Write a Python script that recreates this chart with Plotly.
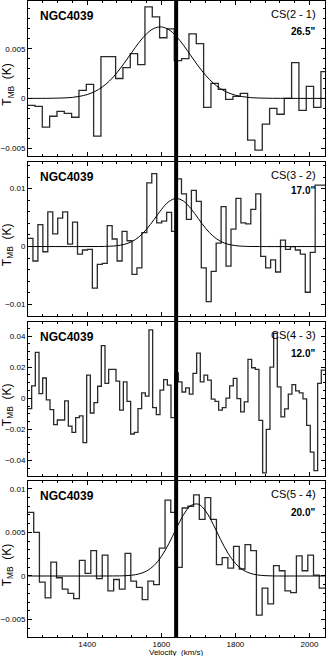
import numpy as np
import plotly.graph_objects as go

# Velocity axis (km/s) and systemic velocity marker
v_range = [1240, 2042]
v_sys = 1640
x_tickvals = [1400, 1600, 1800, 2000]
x_ticktext = ["1400", "1600", "1800", "2000"]

# CS(2-1): channel left edge, channel width, spectrum (K)
cs21_v0, cs21_dv = 1239, 19.8
cs21_t = [-0.0007, -0.0008, -0.0029, -0.0018, -0.0013, -0.0015, -0.0019, 0.0008, 0.0014, -0.0038,
          0.0042, 0.0042, 0.0020, 0.0031, 0.0045, 0.0034, 0.0092, 0.0082, 0.0061, 0.0070,
          0.0038, 0.0040, 0.0065, 0.0055, -0.0009, 0.0015, 0.0009, -0.0001, 0.0002, 0.0005,
          -0.0042, -0.0052, -0.0026, -0.0010, -0.0016, 0.0000, 0.0036, -0.0012, 0.0012, -0.0009,
          0.0027]
cs21_fit_v = [1240, 1300, 1340, 1360, 1380, 1400, 1420, 1440, 1460, 1480, 1500, 1520, 1540, 1560,
              1580, 1600, 1620, 1640, 1660, 1680, 1700, 1720, 1740, 1760, 1780, 1800, 1820, 1840,
              1860, 1900, 2042]
cs21_fit_t = [0, 0.00001, 0.00005, 0.0001, 0.00021, 0.00039, 0.00068, 0.00113, 0.00175, 0.00257,
              0.00355, 0.00461, 0.00564, 0.00649, 0.00704, 0.00719, 0.00692, 0.00627, 0.00534,
              0.00429, 0.00324, 0.00231, 0.00155, 0.00097, 0.00058, 0.00032, 0.00017, 0.00008,
              0.00004, 0.00001, 0]

# CS(3-2)
cs32_v0, cs32_dv = 1240, 13.37
cs32_t = [0.0014, -0.0025, 0.0038, -0.0009, 0.0060, 0.0022, 0.0049, 0.0060, 0.0004, 0.0042,
          -0.0013, -0.0006, -0.0005, -0.0072, -0.0031, -0.0029, 0.0036, 0.0013, -0.0025, 0.0026,
          0.0010, -0.0048, -0.0037, 0.0024, 0.0110, 0.0126, 0.0041, 0.0044, 0.0059, 0.0026,
          0.0117, 0.0091, 0.0047, 0.0097, 0.0078, -0.0037, -0.0095, -0.0043, 0.0006, 0.0069,
          -0.0034, 0.0030, 0.0083, 0.0041, 0.0039, 0.0064, 0.0091, -0.0017, -0.0037, -0.0023,
          -0.0044, 0.0011, -0.0005, 0.0000, -0.0006, -0.0013, -0.0079, -0.0010, 0.0106, 0.0106]
cs32_fit_v = [1240, 1440, 1460, 1480, 1500, 1520, 1540, 1560, 1580, 1600, 1620, 1640, 1660, 1680,
              1700, 1720, 1740, 1760, 1780, 1800, 1820, 1840, 2042]
cs32_fit_t = [0, 0.00001, 0.00005, 0.00014, 0.00037, 0.00084, 0.00168, 0.00297, 0.00463, 0.00638,
              0.00775, 0.0083, 0.00784, 0.00654, 0.00481, 0.00312, 0.00179, 0.0009, 0.0004,
              0.00016, 0.00005, 0.00001, 0]

# CS(4-3), no fit
cs43_v0, cs43_dv = 1240, 9.9
cs43_t = [-0.0067, 0.008, 0.0295, 0.003, 0.013, -0.001, -0.0073, -0.017, -0.014, -0.014,
          -0.0017, -0.018, -0.022, -0.0125, -0.0114, -0.0286, 0.0148, -0.0095, -0.0028, 0.0077,
          0.0338, 0.0095, 0.0185, 0.0185, 0.011, -0.0077, 0.0105, -0.002, -0.023, -0.022,
          -0.0067, 0.0034, 0.0013, 0.0439, -0.006, -0.0105, 0.0052, 0.012, 0.0084, -0.0125,
          0.0163, 0.0105, 0.004, 0.0067, 0.0026, 0.016, 0.029, 0.0105, 0.0148, 0.0116,
          -0.0006, -0.002, -0.0077, -0.006, 0.0, 0.008, 0.0127, -0.0002, -0.0088, -0.0024,
          0.025, 0.0196, 0.0185, -0.0142, -0.048, -0.02, 0.02, 0.0417, 0.0073, -0.012,
          -0.0069, 0.0026, 0.0088, 0.0047, 0.0034, -0.0004, -0.0174, -0.0346, -0.0465, 0.0095,
          0.018]

# CS(5-4)
cs54_v0, cs54_dv = 1240, 15.42
cs54_t = [0.0073, 0.0050, -0.0007, -0.0025, 0.0016, -0.0002, -0.0015, -0.0020, -0.0026, 0.0018,
          0.0003, 0.0029, -0.0003, 0.0024, -0.0017, -0.0004, -0.0015, 0.0026, -0.0006, -0.0013,
          -0.0027, -0.0006, -0.0010, 0.0032, 0.0087, 0.0073, 0.0010, 0.0078, 0.0080, 0.0093,
          0.0065, 0.0090, 0.0065, 0.0013, 0.0021, 0.0009, 0.0034, 0.0008, 0.0036, 0.0029,
          -0.0045, -0.0014, -0.0032, 0.0012, 0.0006, -0.0017, -0.0019, 0.0023, 0.0006, 0.0024,
          0.0001, -0.0014]
cs54_fit_v = [1240, 1480, 1500, 1520, 1540, 1560, 1580, 1600, 1620, 1640, 1660, 1680, 1700, 1720,
              1740, 1760, 1780, 1800, 1820, 1840, 1860, 1880, 1900, 1920, 2042]
cs54_fit_t = [0, 0.00001, 0.00003, 0.00009, 0.00024, 0.00056, 0.00119, 0.00223, 0.00369, 0.00541,
              0.00703, 0.00809, 0.00824, 0.00743, 0.00593, 0.00419, 0.00262, 0.00145, 0.00071,
              0.00031, 0.00012, 0.00004, 0.00001, 0, 0]

# Panel labels and y tick labels
source = "NGC4039"
lines = ["CS(2 - 1)", "CS(3 - 2)", "CS(4 - 3)", "CS(5 - 4)"]
beams = ['26.5"', '17.0"', '12.0"', '20.0"']
y_tickvals = [[-0.005, 0, 0.005], [-0.01, 0, 0.01], [-0.04, -0.02, 0, 0.02, 0.04], [-0.005, 0, 0.005, 0.01]]
y_ticktext = [["\u22120.005", "0", "0.005"], ["\u22120.01", "0", "0.01"],
              ["\u22120.04", "\u22120.02", "0", "0.02", "0.04"], ["\u22120.005", "0", "0.005", "0.01"]]

spectra = [(cs21_v0, cs21_dv, cs21_t), (cs32_v0, cs32_dv, cs32_t),
           (cs43_v0, cs43_dv, cs43_t), (cs54_v0, cs54_dv, cs54_t)]
fits = [(cs21_fit_v, cs21_fit_t), (cs32_fit_v, cs32_fit_t), None, (cs54_fit_v, cs54_fit_t)]

# layout settings
W, H = 327, 656
ML, MR, MT, MB = 28, 2, 1, 19
PH = H - MT - MB
y_ranges = [[-0.0058, 0.0098], [-0.012, 0.0146], [-0.050, 0.049], [-0.0070, 0.0109]]
y_minor = [0.001, 0.002, 0.005, 0.001]
panel_px = [(1, 156), (162, 316), (322, 476), (481, 637)]  # top, bottom in pixels
font = "Liberation Sans, Arial, sans-serif"

fig = go.Figure()
layout = dict(width=W, height=H, margin=dict(l=ML, r=MR, t=MT, b=MB),
              paper_bgcolor="white", plot_bgcolor="white", showlegend=False,
              font=dict(family=font, size=8, color="black"))
annotations = []

for i in range(4):
    n = "" if i == 0 else str(i + 1)
    xa, ya = "x" + n, "y" + n
    v0, dv, t = spectra[i]
    edges = v0 + dv * np.arange(len(t) + 1)
    fig.add_trace(go.Scatter(x=edges, y=list(t) + [t[-1]], mode="lines", line_shape="hv",
                             line=dict(color="#2a2a2a", width=1.3), xaxis=xa, yaxis=ya,
                             hoverinfo="skip"))
    if fits[i] is not None:
        fv, ft = fits[i]
        fig.add_trace(go.Scatter(x=fv, y=ft, mode="lines", line_shape="spline",
                                 line=dict(color="black", width=1), xaxis=xa, yaxis=ya,
                                 hoverinfo="skip"))
    top, bot = panel_px[i]
    dom = [(H - MB - bot) / PH, (H - MB - top) / PH]
    layout["xaxis" + n] = dict(
        domain=[0, 1], anchor=ya, range=v_range, showline=True, linecolor="black", linewidth=1,
        mirror="allticks", ticks="inside", ticklen=4, tickcolor="black",
        tickvals=x_tickvals, ticktext=x_ticktext, showticklabels=(i == 3),
        tickfont=dict(size=8), ticklabelstandoff=-1, showgrid=False, zeroline=False,
        minor=dict(dtick=40, tick0=1240, ticks="inside", ticklen=2, tickcolor="black", showgrid=False),
    )
    layout["yaxis" + n] = dict(
        domain=dom, anchor=xa, range=y_ranges[i], showline=True, linecolor="black", linewidth=1,
        mirror="allticks", ticks="inside", ticklen=4, tickcolor="black",
        tickvals=y_tickvals[i], ticktext=y_ticktext[i], tickfont=dict(size=8),
        showgrid=False, zeroline=False,
        minor=dict(dtick=y_minor[i], tick0=0, ticks="inside", ticklen=2, tickcolor="black", showgrid=False),
    )
    ph = bot - top
    annotations.append(dict(text="<b>" + source + "</b>", xref=xa + " domain", yref=ya + " domain",
                            x=10 / 297, y=1 - 15 / ph, xanchor="left", yanchor="middle",
                            showarrow=False, font=dict(size=12)))
    annotations.append(dict(text=lines[i], xref=xa + " domain", yref=ya + " domain",
                            x=(318 - ML) / 297, y=1 - 12.5 / ph, xanchor="right", yanchor="middle",
                            showarrow=False, font=dict(size=11)))
    annotations.append(dict(text="<b>" + beams[i] + "</b>", xref=xa + " domain", yref=ya + " domain",
                            x=(317 - ML) / 297, y=1 - (28 if i == 1 else 31) / ph, xanchor="right",
                            yanchor="middle", showarrow=False, font=dict(size=10)))
    annotations.append(dict(text="T<sub>MB</sub>  (K)", xref="paper", yref=ya + " domain",
                            x=(8 - ML) / 297, y=0.46, xanchor="center", yanchor="middle",
                            textangle=-90, showarrow=False, font=dict(size=12)))

annotations.append(dict(text="Velocity  (km/s)", xref="paper", yref="paper", x=0.5,
                        y=-(652.5 - (H - MB)) / PH, xanchor="center", yanchor="middle",
                        showarrow=False, font=dict(size=8)))
layout["annotations"] = annotations
layout["shapes"] = [dict(type="line", xref="x4", yref="paper", x0=v_sys, x1=v_sys, y0=0, y1=1.002,
                         line=dict(color="black", width=4))]
fig.update_layout(**layout)

# remove the default page margin so the figure sits at the window's corner
fig.write_html("out.html", config={"displayModeBar": False},
               post_script="document.body.style.margin='0';document.body.style.overflow='hidden';")
